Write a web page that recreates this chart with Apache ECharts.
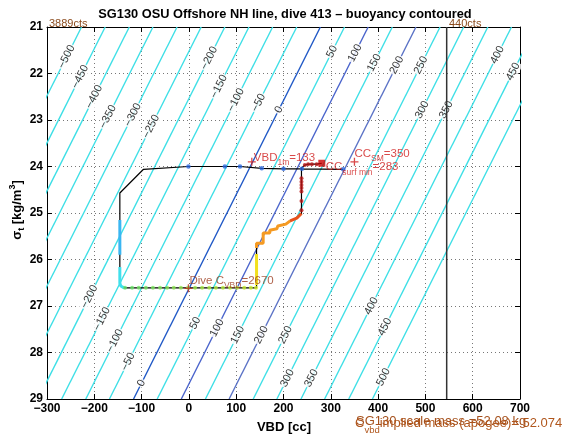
<!DOCTYPE html>
<html><head><meta charset="utf-8">
<script src="https://cdn.jsdelivr.net/npm/echarts@6/dist/echarts.min.js"></script>
<style>html,body{margin:0;padding:0;background:#fff}#c{width:570px;height:439px}</style>
</head><body><div id="c"></div>
<script>
// ---- contour lines (buoyancy, g): VBD [cc] where each level crosses sigma=21 and sigma=29
const contourLevels    = [-500,-450,-400,-350,-300,-250,-200,-150,-100,-50,0,50,100,150,200,250,300,350,400,450,500];
const contourVbdTop    = [-227,-177,-126,-76,-25,26,76,127,177,228,278,329,379,430,480,531,581,632,682,733,783];
const contourVbdBottom = [-622,-572,-521,-471,-420,-370,-319,-269,-218,-168,-117,-67,-16,35,85,136,186,237,287,338,388];
// ---- contour label placement: level and sigma where the label sits
const labelLevels = [-500,-450,-400,-350,-300,-250,-200,-150,-100,-50,0,50,100,150,200,250,300,350,400,450,
                     -200,-150,-100,-50,0,50,100,150,200,250,300,350,400,450,500];
const labelSigma  = [21.64,22.07,22.5,22.93,22.89,23.14,21.67,22.28,22.57,22.63,22.78,21.53,21.56,21.77,21.82,21.82,22.78,22.78,21.6,21.96,
                     26.8,27.28,27.75,28.2,28.66,27.37,27.47,27.62,27.62,27.62,28.55,28.55,27.0,27.45,28.53];
// ---- dive path (black line)
const pathVbd   = [326,239,200,154,108,76,-1,-96,-146,-146,-146,-146,-146,-144,-137,143,143,157,157,171,171,186,188,205,214,228,238,238,245,252,260,270,281];
const pathSigma = [24.06,24.05,24.05,24.04,24.0,24.0,24.0,24.06,24.57,25.15,25.9,26.16,26.51,26.57,26.61,26.61,25.65,25.65,25.43,25.43,25.37,25.34,25.28,25.24,25.17,25.11,25.01,24.03,23.97,23.95,23.95,23.95,23.93];
// surface (start of dive) points
const surfVbd   = [326,239,200,154,108,76,-1];
const surfSigma = [24.06,24.05,24.05,24.04,24.0,24.0,24.0];
// apogee pumping points
const bottomVbd   = [-135,-120,-106,-91,-76,-61,-46,-32,-17,-2,13,28,43,57,72,87,102,117,131,142];
const bottomSigma = [26.61,26.61,26.61,26.61,26.61,26.61,26.61,26.61,26.61,26.61,26.61,26.61,26.61,26.61,26.61,26.61,26.61,26.61,26.61,26.61];
// descent/climb coloured stretches
const descentA = [[-146,25.15],[-146,25.9]];
const descentB = [[-146,26.16],[-146,26.51],[-144,26.57],[-137,26.61]];
const climbA   = [[143,26.55],[143,25.88]];
const climbB   = [[143,25.75],[143,25.65],[157,25.65],[157,25.43],[171,25.43],[171,25.37],[186,25.34],[188,25.28],[205,25.24],[214,25.17]];
const climbC   = [[214,25.17],[228,25.11],[238,25.01]];
// final ascent points
const ascentVbd   = [238,238,238,238,238,238,238,245,252,260,270];
const ascentSigma = [24.94,24.74,24.54,24.46,24.40,24.33,24.25,23.97,23.95,23.95,23.95];
// annotations
const vbd1m = 133, ccSM = 350, ccSurfMin = 283, diveCvbd = 2670;
const vbd1mPoint = [133, 23.9];
const ccSMPoint = [350, 23.9];
const ccSurfPoint = [281, 23.93];
const diveCPoint = [-1, 26.62];
const vbdMaxLine = 545;          // 440cts
const xTicks = [-300,700,100];   // min,max,step
const yTicks = [21,29,1];

const FONT = '"Liberation Sans", Arial, Helvetica, sans-serif';
const CYAN = '#3edfe6';
const darkLevels = {0:'#1f58c6', 100:'#4a64cc', 200:'#5a72c6'};
const minus = v => String(v).replace('-', '\u2212');

const chart = echarts.init(document.getElementById('c'));
const series = [];
contourLevels.forEach((L, i) => {
  series.push({type:'line', data:[[contourVbdTop[i],21],[contourVbdBottom[i],29]], symbol:'none', silent:true,
    clip:true, animation:false, z:1, lineStyle:{color: darkLevels[L] || CYAN, width:1.4}});
});
series.push({type:'scatter', z:2, symbolSize:1, silent:true, animation:false,
  itemStyle:{color:'rgba(0,0,0,0)'},
  label:{show:true, position:'inside', rotate:63, fontSize:11, fontFamily:FONT, color:'#000',
         backgroundColor:'#fff', padding:[0,1,0,1]},
  data: labelLevels.map((L,k) => {
    const i = contourLevels.indexOf(L), s = labelSigma[k];
    const v = contourVbdTop[i] + (contourVbdBottom[i]-contourVbdTop[i])*(s-21)/8;
    return {value:[v,s], label:{formatter: minus(L)}};
  })});
// vertical max VBD line
series.push({type:'line', z:3, symbol:'none', silent:true, animation:false,
  data:[[vbdMaxLine,21],[vbdMaxLine,29]], lineStyle:{color:'#333', width:1.5}});
// dive path
series.push({type:'line', z:4, symbol:'none', silent:true, animation:false,
  data: pathVbd.map((v,i)=>[v,pathSigma[i]]), lineStyle:{color:'#000', width:1.2}});
const seg = (d,c,w)=>({type:'line', z:5, symbol:'none', silent:true, animation:false, data:d, lineStyle:{color:c,width:w}});
series.push(seg(descentA,'#3ab6f2',3));
series.push(seg(descentB,'#40e0ec',3));
series.push(seg(climbA,'#f2e020',3));
series.push(seg(climbB,'#f59a22',3));
series.push(seg(climbC,'#e8521c',3));
series.push({type:'scatter', z:6, symbolSize:4.5, silent:true, animation:false, itemStyle:{color:'#2a66dd'},
  data: surfVbd.map((v,i)=>[v,surfSigma[i]])});
series.push({type:'scatter', z:6, symbolSize:4, silent:true, animation:false,
  data: bottomVbd.map((v,i)=>{
    const t = i/(bottomVbd.length-1);
    const r = Math.round(100 + t*110), g = Math.round(228 + t*8), b = Math.round(110 - t*70);
    return {value:[v,bottomSigma[i]], itemStyle:{color:`rgb(${r},${g},${b})`}};
  })});
series.push({type:'scatter', z:6, symbolSize:4, silent:true, animation:false, itemStyle:{color:'#b81414'},
  data: ascentVbd.map((v,i)=>[v,ascentSigma[i]])});
series.push({type:'scatter', z:7, symbol:'rect', symbolSize:7, silent:true, animation:false, itemStyle:{color:'#cc0000'},
  data:[ccSurfPoint]});
const plus = 'path://M0,-5L0,5M-5,0L5,0';
series.push({type:'scatter', z:7, symbol:plus, symbolSize:8, silent:true, animation:false,
  itemStyle:{color:'rgba(0,0,0,0)', borderColor:'#d01c1c', borderWidth:1.3},
  data:[vbd1mPoint, ccSMPoint]});
series.push({type:'scatter', z:7, symbol:plus, symbolSize:8, silent:true, animation:false,
  itemStyle:{color:'rgba(0,0,0,0)', borderColor:'#c0301c', borderWidth:1.3},
  data:[diveCPoint]});
// annotation texts (subscripts via rich text)
const rich = c => ({
  m:{fontSize:11.5, fontFamily:FONT, color:c, lineHeight:14, verticalAlign:'middle'},
  s:{fontSize:8.5, fontFamily:FONT, color:c, lineHeight:19, verticalAlign:'bottom'}
});
const ann = (pt, text, c, off) => ({type:'scatter', z:8, symbolSize:1, silent:true, animation:false,
  itemStyle:{color:'rgba(0,0,0,0)'},
  label:{show:true, position:'inside', align:'left', verticalAlign:'middle', offset:off, formatter:text, rich:rich(c)},
  data:[pt]});
series.push(ann(vbd1mPoint, `{m|VBD}{s|1m}{m|=${vbd1m}}`, '#d01c1c', [2,-4.5]));
series.push(ann([ccSurfMin, 23.93], `{m|CC}{s|surf min}{m|=${ccSurfMin}}`, '#d01c1c', [3,4]));
series.push(ann(ccSMPoint, `{m|CC}{s|SM}{m|=${ccSM}}`, '#d01c1c', [0,-8]));
series.push(ann(diveCPoint, `{m|Dive C}{s|VBD}{m|=${diveCvbd}}`, '#9a3a1c', [1,-7.5]));

const axisCommon = {type:'value', axisLine:{show:true,onZero:false,lineStyle:{color:'#000',width:1}},
  axisTick:{show:true,inside:true,length:5,lineStyle:{color:'#000'}}};
chart.setOption({
  animation:false,
  grid:{left:47, top:27, width:473, height:372, show:false},
  xAxis:[
    Object.assign({}, axisCommon, {position:'bottom', min:xTicks[0], max:xTicks[1], interval:xTicks[2],
      axisLabel:{color:'#000', fontWeight:'bold', fontSize:12, fontFamily:FONT, margin:4, formatter:minus},
      splitLine:{show:true, lineStyle:{color:'#777', type:[1,3], width:1}}}),
    Object.assign({}, axisCommon, {position:'top', min:xTicks[0], max:xTicks[1], interval:xTicks[2],
      axisLabel:{show:false}, splitLine:{show:false}})
  ],
  yAxis:[
    Object.assign({}, axisCommon, {position:'left', inverse:true, min:yTicks[0], max:yTicks[1], interval:yTicks[2],
      axisLabel:{color:'#000', fontWeight:'bold', fontSize:12, fontFamily:FONT, margin:4},
      splitLine:{show:true, lineStyle:{color:'#777', type:[1,3], width:1}}}),
    Object.assign({}, axisCommon, {position:'right', inverse:true, min:yTicks[0], max:yTicks[1], interval:yTicks[2],
      axisLabel:{show:false}, splitLine:{show:false}})
  ],
  graphic:[
    {type:'text', x:285, y:14, style:{text:'SG130 OSU Offshore NH line, dive 413 \u2013 buoyancy contoured',
      font:`bold 12.8px ${FONT}`, fill:'#000', align:'center', verticalAlign:'middle'}},
    {type:'text', x:284, y:427, style:{text:'VBD [cc]', font:`bold 13px ${FONT}`, fill:'#000', align:'center', verticalAlign:'middle'}},
    {type:'text', x:17, y:210, rotation:Math.PI/2,
      style:{text:'{a|\u03c3}{b|t}{a| [kg/m}{c|3}{a|]}', align:'center', verticalAlign:'middle',
        rich:{a:{font:`bold 13px ${FONT}`, fill:'#000', lineHeight:18, verticalAlign:'middle'},
              b:{font:`bold 9px ${FONT}`, fill:'#000', lineHeight:14, verticalAlign:'bottom'},
              c:{font:`bold 9px ${FONT}`, fill:'#000', lineHeight:14, verticalAlign:'top'}}}},
    {type:'text', x:49, y:23.5, style:{text:'3889cts', font:`11px ${FONT}`, fill:'#8b4a1c', verticalAlign:'middle'}},
    {type:'text', x:449, y:24, style:{text:'440cts', font:`11px ${FONT}`, fill:'#8b4a1c', verticalAlign:'middle'}},
    {type:'text', x:356, y:421, style:{text:'SG130 scale mass =52.08 kg', font:`13px ${FONT}`, fill:'#a5501c', verticalAlign:'middle'}},
    {type:'text', x:355, y:423, style:{text:'{m|C}{s|vbd}{m|implied mass (apogee)= 52.074}', verticalAlign:'middle',
      rich:{m:{font:`13px ${FONT}`, fill:'#b0561c', lineHeight:16, verticalAlign:'middle'},
            s:{font:`9.5px ${FONT}`, fill:'#b0561c', lineHeight:24, verticalAlign:'bottom'}}}}
  ],
  series: series
});
</script></body></html>
